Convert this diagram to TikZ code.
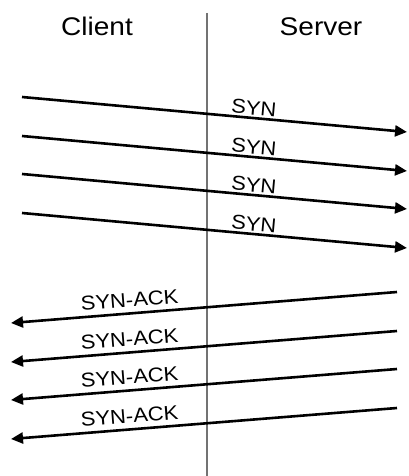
\documentclass[tikz,border=0pt]{standalone}
\usepackage{fontspec}
\setmainfont[FakeStretch=1.1]{Liberation Sans}
\definecolor{linegray}{RGB}{115, 115, 115}
\usetikzlibrary{arrows.meta, positioning}

\begin{document}
\begin{tikzpicture}[
    x=1pt, y=-1pt,
    >={Triangle[length=12pt, width=11pt]},
    head/.style={anchor=base, font=\fontsize{25.5}{30}\selectfont},
    msg/.style={line width=2.6pt, ->},
    msglabel/.style={sloped, above, font=\fontsize{20}{24}\selectfont, inner sep=#1},
    msglabel/.default=2pt
]
\useasboundingbox (0,0) rectangle (408,476);

% Cabeceras
\node[head] (client) at (97, 36) {Client};
\node[head] (server) at (321, 36) {Server};

% Línea divisoria
\coordinate (top) at (207, 13);
\coordinate (bottom) at (207, 476);
\draw[linegray, line width=2.2pt] (top) -- (bottom);

% Mensajes SYN (cliente -> servidor)
\foreach \i/\y in {1/97, 2/136, 3/174, 4/213} {
    \coordinate (syn\i a) at (22, \y);
    \coordinate (syn\i b) at (407, \y+35);
    \draw[msg] (syn\i a) -- node[msglabel=1.5pt, pos=0.6] {SYN} (syn\i b);
}

% Mensajes SYN-ACK (servidor -> cliente)
\foreach \i/\y in {1/323, 2/362, 3/400, 4/439} {
    \coordinate (ack\i a) at (11, \y);
    \coordinate (ack\i b) at (397, \y-31);
    \draw[msg, <-] (ack\i a) -- node[msglabel=5pt, pos=0.31] {SYN-ACK} (ack\i b);
}

\end{tikzpicture}
\end{document}
